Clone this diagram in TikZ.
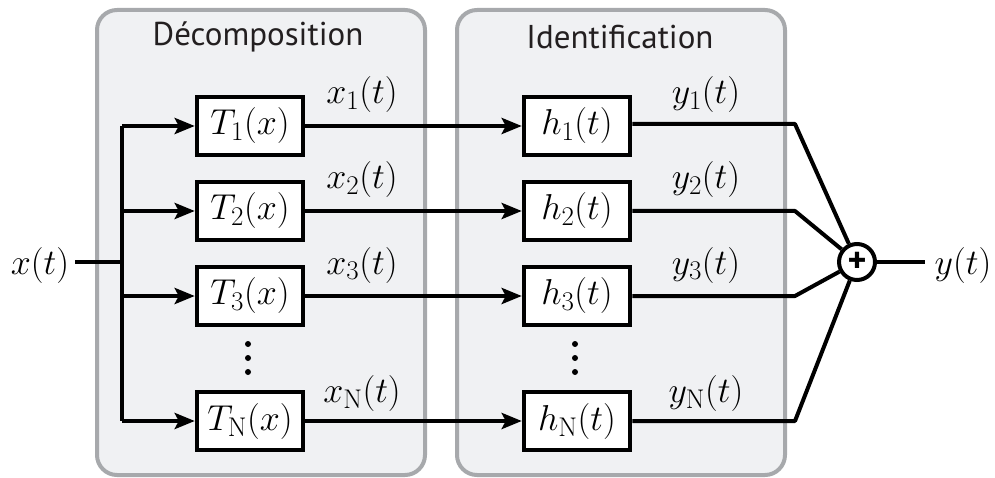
\RequirePackage{fix-cm}
\documentclass[tikz,border=0pt]{standalone}
\usepackage{fontspec}
\newfontfamily\hdrfont{PT Sans}
\usetikzlibrary{arrows.meta}
\definecolor{panelbg}{HTML}{F0F1F3}
\definecolor{panelbd}{HTML}{A7A9AC}
\definecolor{ink}{HTML}{231F20}
\DeclareMathSizes{36}{36}{27}{20}
\newcommand{\mfs}{\fontsize{36}{42}\selectfont}
\begin{document}
\begin{tikzpicture}[x=1pt,y=-1pt,line width=4pt,
  panel/.style={draw=panelbd,line width=4pt,fill=panelbg,rounded corners=20pt},
  hdr/.style={font=\hdrfont\fontsize{33}{36}\selectfont,text=ink},
  blk/.style={draw,line width=4.5pt,fill=white,minimum width=106pt,minimum height=58pt,inner sep=0pt,font=\mfs},
  lbl/.style={font=\mfs,inner sep=0pt},
  arr/.style={-{Stealth[length=20pt,width=16pt,inset=4pt]}},
  dotm/.style={fill,circle,inner sep=0pt,minimum size=6pt},
]
\useasboundingbox (0,0) rectangle (995,478);
% panels
\draw[panel] (97,10) rectangle (425,475);
\draw[panel] (457,10) rectangle (785,475);
\node[hdr] (hd) at (258,37) {Décomposition};
\node[hdr] (hi) at (620,37) {Identification};
% blocks
\node[blk] (T1) at (250,126) {$T_1(x)$};
\node[blk] (T2) at (250,211) {$T_2(x)$};
\node[blk] (T3) at (250,296) {$T_3(x)$};
\node[blk] (TN) at (250,421) {$T_{\mathrm{N}}(x)$};
\node[blk] (h1) at (577,126) {$h_1(t)$};
\node[blk] (h2) at (577,211) {$h_2(t)$};
\node[blk] (h3) at (577,296) {$h_3(t)$};
\node[blk] (hN) at (577,421) {$h_{\mathrm{N}}(t)$};
% dots
\foreach \yy [count=\i] in {344,358,372}{
  \node[dotm] (dl\i) at (248,\yy) {};
  \node[dotm] (dr\i) at (575,\yy) {};
}
% input
\node[lbl,anchor=base] (xin) at (40,274) {$x(t)$};
\coordinate (sp) at (122,262);
\coordinate (s1) at (122,126);
\coordinate (s2) at (122,211);
\coordinate (s3) at (122,296);
\coordinate (sN) at (122,421);
\coordinate (xs) at (75,262);
\draw (xs) -- (sp);
\draw (s1) -- (sN);
\draw[arr] (s1) -- (T1.west);
\draw[arr] (s2) -- (T2.west);
\draw[arr] (s3) -- (T3.west);
\draw[arr] (sN) -- (TN.west);
% middle
\draw[arr] (T1.east) -- (h1.west);
\draw[arr] (T2.east) -- (h2.west);
\draw[arr] (T3.east) -- (h3.west);
\draw[arr] (TN.east) -- (hN.west);
\node[lbl,anchor=base] (lx1) at (362,104) {$x_1(t)$};
\node[lbl,anchor=base] (lx2) at (362,189) {$x_2(t)$};
\node[lbl,anchor=base] (lx3) at (362,274) {$x_3(t)$};
\node[lbl,anchor=base] (lxN) at (362,402) {$x_{\mathrm{N}}(t)$};
% sum
\node[circle,draw,line width=4pt,minimum size=36pt,inner sep=0pt,fill=white,font=\hdrfont\bfseries\fontsize{36}{36}\selectfont] (sum) at (857,262) {+};
\coordinate (c1) at (795,124);
\coordinate (c2) at (795,211);
\coordinate (c3) at (795,296);
\coordinate (cN) at (795,421);
\draw[line join=round] (h1.east |- c1) -- (c1) -- (sum);
\draw[line join=round] (h2.east) -- (c2) -- (sum);
\draw[line join=round] (h3.east) -- (c3) -- (sum);
\draw[line join=round] (hN.east) -- (cN) -- (sum);
\node[lbl,anchor=base] (ly1) at (706,104) {$y_1(t)$};
\node[lbl,anchor=base] (ly2) at (706,189) {$y_2(t)$};
\node[lbl,anchor=base] (ly3) at (706,274) {$y_3(t)$};
\node[lbl,anchor=base] (lyN) at (706,402) {$y_{\mathrm{N}}(t)$};
\node[lbl,anchor=base] (yout) at (963,274) {$y(t)$};
\coordinate (ye) at (925,262);
\draw (sum) -- (ye);
\end{tikzpicture}
\end{document}
